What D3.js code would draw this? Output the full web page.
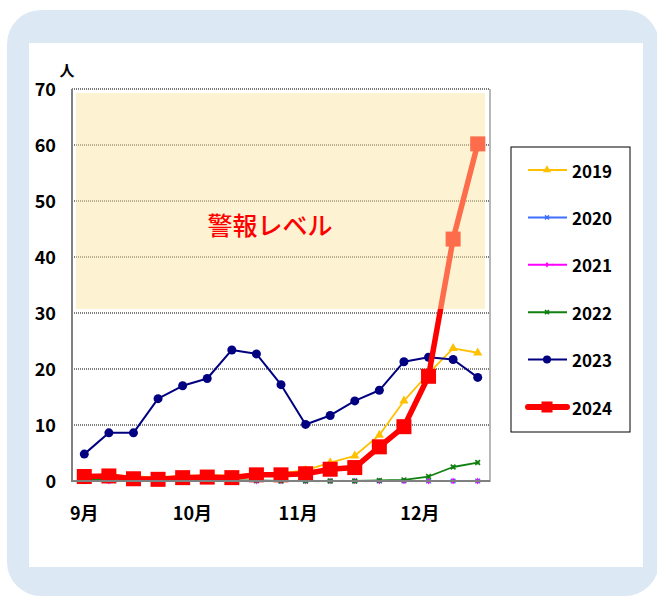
<!DOCTYPE html>
<html><head><meta charset="utf-8">
<script src="https://cdn.jsdelivr.net/npm/d3@7"></script>
<style>html,body{margin:0;padding:0;background:#fff}svg{display:block}</style>
</head><body><svg id="c" width="657" height="597"></svg>
<script>
const weeks = d3.range(17);
const yTicks = [0,10,20,30,40,50,60,70];
const monthLabels = ["9月","10月","11月","12月"];
const monthPos = [0, 4.4, 8.7, 13.65];
const seriesNames = ["2019","2020","2021","2022","2023","2024"];
const v2019 = [1.0,1.1,0.8,0.7,0.9,1.0,1.0,1.3,1.4,1.9,3.3,4.5,8.2,14.3,19.2,23.7,22.9];
const v2020 = [0,0,0,0,0,0,0,0,0,0,0,0,0,0,0,0,0];
const v2021 = [0,0,0,0,0,0,0,0,0,0,0,0,0,0,0,0,0];
const v2022 = [0.2,0.2,0.1,0.1,0.1,0.1,0.1,0.1,0,0,0,0,0.1,0.2,0.8,2.5,3.3];
const v2023 = [4.8,8.6,8.6,14.7,17.0,18.3,23.4,22.7,17.2,10.1,11.7,14.3,16.2,21.3,22.1,21.7,18.5];
const v2024 = [0.8,0.9,0.4,0.3,0.6,0.7,0.6,1.1,1.1,1.3,2.1,2.4,6.1,9.7,18.7,43.2,60.2];
const warnBand = [30,70];
const warnLabel = "警報レベル";
const unitLabel = "人";

const allValues = [v2019,v2020,v2021,v2022,v2023,v2024];
const colors = ["#FFC000","#3F6FFF","#FF00FF","#108010","#000080","#FF0000"];
const widths = [1.8,1.8,1.8,1.8,2,5.5];

const svg = d3.select("#c");
const FONT = "'Noto Sans CJK JP','Noto Sans',sans-serif";

// frame
svg.append("rect").attr("x",7).attr("y",10).attr("width",652).attr("height",586).attr("rx",34).attr("fill","#DDE8F5");
svg.append("rect").attr("x",29).attr("y",43).attr("width",614).attr("height",524).attr("fill","#fff");

const L=72,R=490,T=89,B=481;
const x = d3.scalePoint().domain(weeks).range([L,R]).padding(0.5);
const step = x.step();
const y = d3.scaleLinear().domain([0,70]).range([B,T]);

// gridlines
svg.append("g").selectAll("line").data(yTicks.filter(d=>d>0)).join("line")
  .attr("x1",L).attr("x2",R).attr("y1",d=>y(d)).attr("y2",d=>y(d))
  .attr("stroke","#555").attr("stroke-width",1.3).attr("stroke-dasharray","1,1");

// y tick labels
const yAxis = d3.axisLeft(y).tickValues(yTicks).tickSize(0).tickPadding(0);
const ga = svg.append("g").attr("transform",`translate(56,0)`).call(yAxis);
ga.select(".domain").remove();
ga.selectAll("text").attr("font-family",FONT).attr("font-size",18).attr("font-weight",700).attr("fill","#000").attr("x",0).attr("dy","0.35em");

svg.append("text").attr("x",67).attr("y",69).attr("text-anchor","middle").attr("dominant-baseline","central")
  .attr("font-family",FONT).attr("font-size",15).attr("font-weight",700).text(unitLabel);

// x labels
svg.append("g").selectAll("text").data(monthLabels).join("text")
  .attr("x",(d,i)=>x(0)+monthPos[i]*step).attr("y",512).attr("text-anchor","middle").attr("dominant-baseline","central")
  .attr("font-family",FONT).attr("font-size",18).attr("font-weight",700).text(d=>d);

// markers
function marker(g, idx, size){
  const c = colors[idx];
  if(idx===0){ g.append("path").attr("d",d3.symbol(d3.symbolTriangle, size*size*0.45)()).attr("fill",c); }
  else if(idx===1){ g.append("path").attr("d",d3.symbol(d3.symbolX, size*size*0.25)()).attr("stroke",c).attr("stroke-width",1.5).attr("fill","none"); }
  else if(idx===2){ g.append("path").attr("d",d3.symbol(d3.symbolDiamond, size*size*0.3)()).attr("fill",c); }
  else if(idx===3){ const s=d3.symbol(d3.symbolX, size*size*0.25)(); g.append("path").attr("d",s).attr("stroke",c).attr("stroke-width",1.6).attr("fill","none");
    g.append("path").attr("d",d3.symbol(d3.symbolCross, size*size*0.12)()).attr("fill",c); }
  else if(idx===4){ g.append("circle").attr("r",size/2).attr("fill",c); }
  else { g.append("rect").attr("x",-size/2).attr("y",-size/2).attr("width",size).attr("height",size).attr("fill",c); }
}
const msize=[9,8,7,8,9,15];

const line = d3.line().x((d,i)=>x(i)).y(d=>y(d));
allValues.forEach((vals,si)=>{
  const g = svg.append("g");
  g.append("path").attr("d",line(vals)).attr("fill","none").attr("stroke",colors[si]).attr("stroke-width",widths[si]).attr("stroke-linejoin","round");
  vals.forEach((v,i)=>{ const mg=g.append("g").attr("transform",`translate(${x(i)},${y(v)})`); marker(mg,si,msize[si]); });
});

// warning band overlay (translucent)
svg.append("rect").attr("x",L+4).attr("y",y(warnBand[1])+4).attr("width",R-L-9).attr("height",y(warnBand[0])-y(warnBand[1])-8)
  .attr("fill","rgb(250,229,160)").attr("fill-opacity",0.47);
svg.append("text").attr("x",270).attr("y",224).attr("text-anchor","middle").attr("dominant-baseline","central")
  .attr("font-family",FONT).attr("font-size",25).attr("font-weight",500).attr("fill","#FF0000").text(warnLabel);

// plot border
svg.append("line").attr("x1",L).attr("x2",R).attr("y1",T).attr("y2",T).attr("stroke","#777").attr("stroke-width",1.3).attr("stroke-dasharray","1,1");
svg.append("line").attr("x1",L).attr("x2",L).attr("y1",T).attr("y2",B+1).attr("stroke","#808080").attr("stroke-width",2);
svg.append("line").attr("x1",R).attr("x2",R).attr("y1",T).attr("y2",B+1).attr("stroke","#a0a0a0").attr("stroke-width",1.5);
svg.append("line").attr("x1",L).attr("x2",R).attr("y1",B).attr("y2",B).attr("stroke","#808080").attr("stroke-width",2);

// legend
svg.append("rect").attr("x",511).attr("y",147).attr("width",119).attr("height",285).attr("fill","#fff").attr("stroke","#000").attr("stroke-width",1);
seriesNames.forEach((n,si)=>{
  const ly = 170 + si*47.4;
  const g = svg.append("g");
  g.append("line").attr("x1",528).attr("x2",567).attr("y1",ly).attr("y2",ly).attr("stroke",colors[si]).attr("stroke-width",si===5?6:2).attr("stroke-linecap",si===5?"round":"butt");
  const mg = g.append("g").attr("transform",`translate(547,${ly})`); marker(mg,si,si===5?11:msize[si]-1);
  g.append("text").attr("x",572).attr("y",ly).attr("dominant-baseline","central").attr("font-family",FONT).attr("font-size",17).attr("font-weight",700).text(n);
});
</script></body></html>
